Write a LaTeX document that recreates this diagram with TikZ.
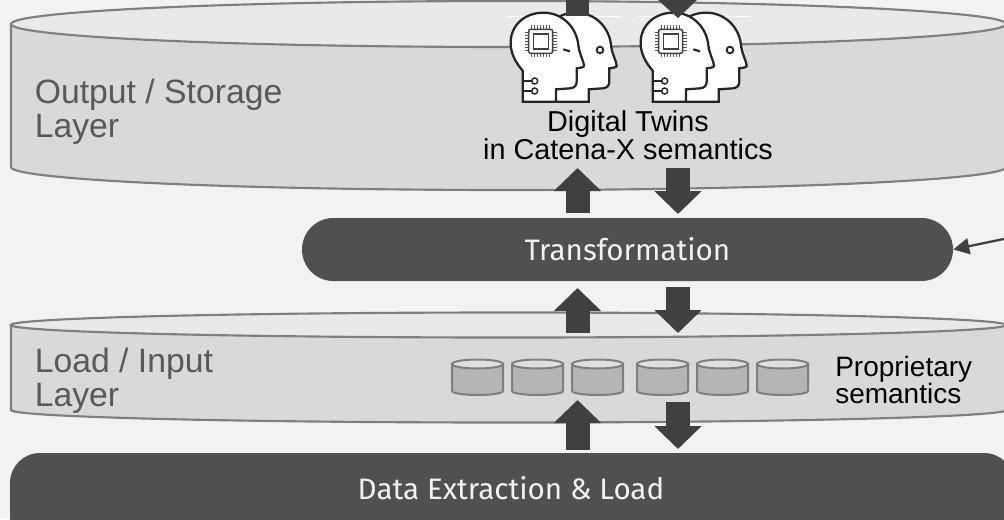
\documentclass[tikz,border=0pt]{standalone}
\usepackage{fontspec}
\setmainfont{Liberation Sans}
\newfontfamily\barfont{Fira Sans}
\usetikzlibrary{arrows.meta}
\definecolor{pagebg}{HTML}{F2F2F2}
\definecolor{cylbody}{HTML}{D9D9D9}
\definecolor{cyltop}{HTML}{E9E9E9}
\definecolor{cylline}{HTML}{7F7F7F}
\definecolor{darkbar}{HTML}{505050}
\definecolor{blockarrow}{HTML}{404040}
\definecolor{labelgrey}{HTML}{595959}
\definecolor{smallbody}{HTML}{B5B5B5}
\definecolor{smalltop}{HTML}{E0E0E0}
\newcommand{\cyl}[6]{% x1, x2, ytop-center, ybottom-center, line width, ry
  \path[fill=cylbody,draw=cylline,line width=#5] (#1,#3) -- (#1,#4)
     arc[start angle=180,end angle=0,x radius={(#2-#1)/2},y radius=#6] -- (#2,#3) -- cycle;
  \path[fill=cyltop,draw=cylline,line width=#5] ({(#1+#2)/2},#3) ellipse[x radius={(#2-#1)/2},y radius=#6];
}
\newcommand{\smallcyl}[1]{%
  \path[fill=smallbody,draw=cylline,line width=1.5pt] (#1,364) -- (#1,391)
     arc[start angle=180,end angle=0,x radius=25.5,y radius=4] -- (#1+51,364) -- cycle;
  \path[fill=smalltop,draw=cylline,line width=1.5pt] (#1+25.5,364) ellipse[x radius=25.5,y radius=4.5];
}
\newcommand{\headshape}{(128,305) -- (128,212) .. controls (105,185) and (92,160) .. (92,128)
   .. controls (92,75) and (135,38) .. (190,38) .. controls (250,38) and (290,85) .. (295,135)
   .. controls (297,160) and (312,185) .. (312,197) .. controls (312,203) and (300,203) .. (290,205)
   -- (290,245) .. controls (290,258) and (282,264) .. (270,265) -- (228,268) -- (228,305) -- cycle}
\newcommand{\twinhead}[1]{%
 \begin{scope}[shift={(#1,0)},x=0.25pt,y=-0.25pt,line width=1.7pt]
  \draw[white,line width=0.5pt] (85,50) -- (420,50);
  \path[fill=white,draw=black!85] [xshift=24.5pt] \headshape;
  \path[fill=white,draw=black!85] \headshape;
  \draw[line width=1.4pt,draw=black!85] (360,150) circle[radius=10];
  \draw[line width=1.6pt,draw=black!85] (250,148) -- (270,154);
  \draw[line width=1.1pt,draw=black!85] (130,243) -- (155,243) (130,273) -- (155,273);
  \draw[fill=white,line width=1.1pt,draw=black!85] (164,243) circle[radius=9] (164,273) circle[radius=9];
  \foreach \k in {0,...,6} {
    \draw[line width=0.6pt,draw=black!65] ({135},{97+\k*9}) -- (146,{97+\k*9}) (218,{97+\k*9}) -- (230,{97+\k*9});
    \draw[line width=0.6pt,draw=black!65] ({155+\k*9},76) -- ({155+\k*9},88) ({155+\k*9},160) -- ({155+\k*9},172);
  }
  \draw[line width=1.1pt,rounded corners=1.5pt,fill=white,draw=black!75] (146,88) rectangle (218,160);
  \draw[line width=1.1pt,fill=white,draw=black!75] (160,102) rectangle (205,147);
 \end{scope}}
\tikzset{
  blockconn/.style={line width=18pt,blockarrow,-{Triangle[length=17.25pt,width=34.5pt]}},
  barlabel/.style={text=pagebg,font=\barfont\fontsize{22.2}{26}\selectfont,inner sep=0pt},
  layerlabel/.style={anchor=base west,text=labelgrey,font=\fontsize{25.3}{26}\selectfont,align=left,inner sep=0pt},
  blacklabel/.style={anchor=base,text=black,font=\fontsize{21.6}{22}\selectfont,inner sep=0pt},
  proplabel/.style={anchor=base west,text=black,font=\fontsize{21}{22}\selectfont,inner sep=0pt},
}
\begin{document}
\begin{tikzpicture}[x=0.75pt,y=-0.75pt]
\useasboundingbox (0,0) rectangle (1004,519);
\clip (0,0) rectangle (1004,519);
\fill[pagebg] (0,0) rectangle (1004,519);
% output cylinder
\cyl{11}{1006}{24}{167}{1.6pt}{23}
\node[layerlabel] (outA) at (34.5,103) {Output / Storage};
\node[layerlabel] (outB) at (34.5,137) {Layer};
\twinhead{480}
\twinhead{610}
\node[blacklabel] (dtA) at (628,131) {Digital Twins};
\node[blacklabel] (dtB) at (628,159) {in Catena-X semantics};
% load cylinder
\cyl{11}{1006}{325}{410}{1.6pt}{12.5}
\node[layerlabel] (loadA) at (34.5,372) {Load / Input};
\node[layerlabel] (loadB) at (34.5,406) {Layer};
\foreach \x in {452,512,572,637,697,757} {\smallcyl{\x}}
\node[proplabel] (propA) at (835,376) {Proprietary};
\node[proplabel] (propB) at (835,403) {semantics};
% bars
\path[fill=darkbar,rounded corners=23.6pt] (302,218) rectangle (953,281);
\node[barlabel,minimum width=488.25pt,minimum height=47.25pt] (trans) at (627.5,249.5) {Transformation};
\path[fill=darkbar,rounded corners=22.5pt] (10,453) rectangle (1014,560);
\node[barlabel] (extract) at (511,488) {Data Extraction \& Load};
% connector arrows
\coordinate (a1s) at (577.5,213); \coordinate (a1e) at (577.5,168);
\coordinate (a2s) at (678,168); \coordinate (a2e) at (678,214);
\coordinate (a3s) at (577.5,333); \coordinate (a3e) at (577.5,288);
\coordinate (a4s) at (678,287); \coordinate (a4e) at (678,333);
\coordinate (a5s) at (577.5,450); \coordinate (a5e) at (577.5,400);
\coordinate (a6s) at (678,402); \coordinate (a6e) at (678,449);
\draw[blockconn] (a1s) -- (a1e);
\draw[blockconn] (a2s) -- (a2e);
\draw[blockconn] (a3s) -- (a3e);
\draw[blockconn] (a4s) -- (a4e);
\draw[blockconn] (a5s) -- (a5e);
\draw[blockconn] (a6s) -- (a6e);
\fill[blockarrow] (566,-2) rectangle (589,16);
\fill[blockarrow] (658,0) -- (697,0) -- (678,18) -- cycle;
\coordinate (side) at (1006,238.5);
\draw[line width=1.7pt,blockarrow,-{Triangle[length=12pt,width=12pt]}] (side) -- (trans.east);
\end{tikzpicture}
\end{document}
